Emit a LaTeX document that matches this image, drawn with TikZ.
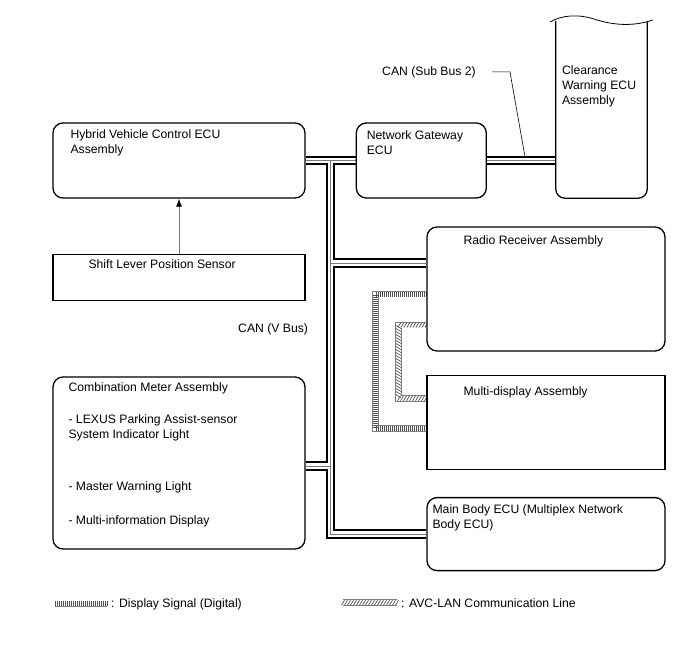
\documentclass[tikz,border=0pt]{standalone}
\usepackage{fontspec}
\setmainfont{Liberation Sans}
\usetikzlibrary{arrows.meta,backgrounds,positioning,decorations.markings}
\definecolor{hatchgray}{HTML}{505050}
\definecolor{wiregray}{HTML}{7A7A7A}
\tikzset{
  ecu/.style={draw=black,line width=1.3pt,fill=white,rounded corners=10pt,inner sep=0pt},
  ecuplain/.style={ecu,sharp corners},
  lbl/.style={inner sep=0pt,align=left,font=\fontsize{12.2}{15}\selectfont},
  sig/.style={-{Latex[length=8pt,width=6pt,color=black]},draw=wiregray,line width=.8pt},
  leader/.style={draw=black,line width=.6pt},
  dispsig/.style={draw=gray,line width=6.5pt,
    postaction={draw=white,line width=5pt},
    postaction={decorate,decoration={markings,
      mark=between positions 0 and 1 step 2pt with {\draw[hatchgray,line width=.7pt] (0,-2.5pt) -- (0,2.5pt);}}}},
  avclan/.style={draw=gray,line width=6.5pt,
    postaction={draw=white,line width=5pt},
    postaction={decorate,decoration={markings,
      mark=between positions 0 and 1 step 3pt with {\draw[hatchgray,line width=.7pt] (-1.5pt,-2.5pt) -- (1.5pt,2.5pt);}}}}
}
\begin{document}
\begin{tikzpicture}[x=1pt,y=-1pt]
  \useasboundingbox (0,0) rectangle (688,658);
  % boxes
  \node[ecu,minimum width=252pt,minimum height=75pt] (hyb) at (179,160.5) {};
  \node[ecu,minimum width=130pt,minimum height=75pt,right=50pt of hyb] (gw) {};
  \node[ecuplain,minimum width=252pt,minimum height=46pt,below=55pt of hyb] (sls) {};
  \node[ecu,minimum width=252pt,minimum height=172pt] (comb) at (179,463) {};
  \node[ecu,minimum width=238pt,minimum height=124pt] (radio) at (546,289) {};
  \node[ecuplain,minimum width=238pt,minimum height=94pt,below=23pt of radio] (md) {};
  \node[ecu,minimum width=238pt,minimum height=73pt,below=27pt of md] (body) {};
  \node[inner sep=0pt,minimum width=91pt,minimum height=177pt] (clr) at (601.5,109.5) {};
  \draw[line width=1.3pt,fill=white,rounded corners=9pt] (clr.north west) |- (clr.south) -| (clr.north east);
  \draw[line width=.8pt] (550,22) .. controls (562,15) and (578,14) .. (594,19) .. controls (612,25) and (632,27) .. (653,20);
  % labels
  \node[lbl,below right=7pt and 18pt of hyb.north west] (hybtxt) {Hybrid Vehicle Control ECU\\Assembly};
  \node[lbl,below right=8pt and 11pt of gw.north west] (gwtxt) {Network Gateway\\ECU};
  \node[lbl,below right=45pt and 6pt of clr.north west] (clrtxt) {Clearance\\Warning ECU\\Assembly};
  \node[lbl,below right=6pt and 36pt of sls.north west] (slstxt) {Shift Lever Position Sensor};
  \node[lbl,below right=9pt and 37pt of radio.north west] (radiotxt) {Radio Receiver Assembly};
  \node[lbl,below right=12pt and 37pt of md.north west] (mdtxt) {Multi-display Assembly};
  \node[lbl,below right=8pt and 6pt of body.north west] (bodytxt) {Main Body ECU (Multiplex Network\\Body ECU)};
  \node[lbl,below right=6pt and 16pt of comb.north west] (combtxt) {Combination Meter Assembly\\[17pt]
    - LEXUS Parking Assist-sensor\\System Indicator Light\\[37pt]
    - Master Warning Light\\[19pt]- Multi-information Display};
  \node[lbl,anchor=north west] (vbus) at (238,323) {CAN (V Bus)};
  \node[lbl,anchor=north west] (subbus) at (382,66) {CAN (Sub Bus 2)};
  % bus taps
  \coordinate (tap) at ([xshift=25pt]hyb.east);
  \coordinate (rin) at ([yshift=26pt]radio.west);
  \coordinate (cin) at ([yshift=-3pt]comb.east);
  \coordinate (subtap) at ([xshift=38pt,yshift=4pt]gw.east);
  \coordinate (dout) at ([yshift=-5pt]radio.west);
  \coordinate (din) at ([yshift=-6pt]md.west);
  \coordinate (aout) at ([yshift=-36pt]radio.west);
  \coordinate (ain) at ([yshift=24pt]md.west);
  \begin{scope}[on background layer]
    \foreach \w/\c in {9.5pt/black,5.5pt/white,.6pt/wiregray}{
      \draw[line width=\w,draw=\c] (hyb.east) -- (gw.west);
      \draw[line width=\w,draw=\c] (gw.east) -- (gw.east -| clr.west);
      \draw[line width=\w,draw=\c] (tap) |- (body.west);
      \draw[line width=\w,draw=\c] (tap |- rin) -- (rin);
      \draw[line width=\w,draw=\c] (tap |- cin) -- (cin);
    }
    \draw[dispsig] (dout) -- ++(-51,0) |- (din);
    \draw[avclan] (aout) -- ++(-28,0) |- (ain);
  \end{scope}
  \draw[sig] (sls.north) -- (hyb.south);
  \draw[leader] ([xshift=16pt]subbus.east) -- ++(18,0) -- (subtap);
  % legend
  \node[lbl,anchor=north west] (lgdisp) at (111,598) {: Display Signal (Digital)};
  \draw[dispsig] ([xshift=-4pt]lgdisp.west) -- ++(-52,0);
  \node[lbl,anchor=north west] (lgavc) at (401,598) {: AVC-LAN Communication Line};
  \draw[avclan] ([xshift=-4pt]lgavc.west) -- ++(-54,0);
\end{tikzpicture}
\end{document}
